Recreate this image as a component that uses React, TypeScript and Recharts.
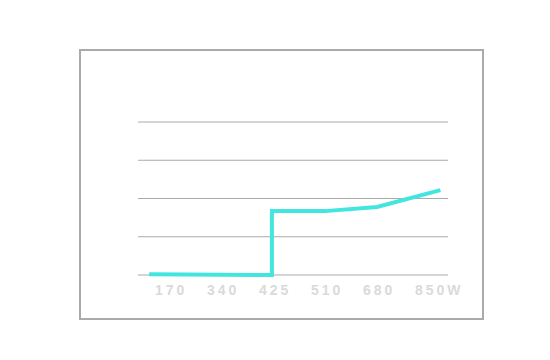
import { LineChart, Line, XAxis, YAxis, CartesianGrid } from "recharts";

// tick labels sit at positions 0..5 along the x track
const TICK_LABELS = ["170", "340", "425", "510", "680", "850W"];
const TICK_POS = [0, 1, 2, 3, 4, 5];
const Y_TICKS = [0, 1, 2, 3, 4];

// line points (x on the label track, y in grid steps)
const LINE_X = [-0.4, 1.96, 1.96, 2.98, 3.98, 5.2];
const LINE_Y = [0.02, 0, 1.67, 1.67, 1.78, 2.22];

const data = LINE_X.map((x, i) => ({ x, y: LINE_Y[i] }));

function Tick(props: any) {
  const { x, y, payload } = props;
  const label = TICK_LABELS[payload.value] ?? "";
  return (
    <text
      x={x - 15}
      y={y}
      dy="0.71em"
      textAnchor="start"
      fill="#dadada"
      fontSize={14}
      fontWeight="bold"
      fontFamily="'Liberation Sans', Arial, sans-serif"
      letterSpacing={3}
    >
      {label}
    </text>
  );
}

export default function App() {
  return (
    <div style={{ position: "absolute", left: 0, top: 0, width: 550, height: 360 }}>
      <div
        style={{
          position: "absolute",
          left: 79,
          top: 49,
          width: 405,
          height: 271,
          border: "2px solid #aaa",
          boxSizing: "border-box",
        }}
      />
      <div style={{ position: "absolute", left: 0, top: 0 }}>
        <LineChart
          width={550}
          height={360}
          data={data}
          margin={{ top: 122, right: 102, bottom: 55, left: 138 }}
        >
          <CartesianGrid vertical={false} stroke="#aaa" strokeWidth={1} />
          <XAxis
            dataKey="x"
            type="number"
            domain={[-0.615, 5.346]}
            ticks={TICK_POS}
            axisLine={false}
            tickLine={false}
            tickMargin={4}
            height={30}
            tick={<Tick />}
            allowDataOverflow
          />
          <YAxis hide domain={[0, 4]} ticks={Y_TICKS} />
          <Line
            dataKey="y"
            type="linear"
            stroke="#42e5e0"
            strokeWidth={4}
            dot={false}
            isAnimationActive={false}
          />
        </LineChart>
      </div>
    </div>
  );
}
